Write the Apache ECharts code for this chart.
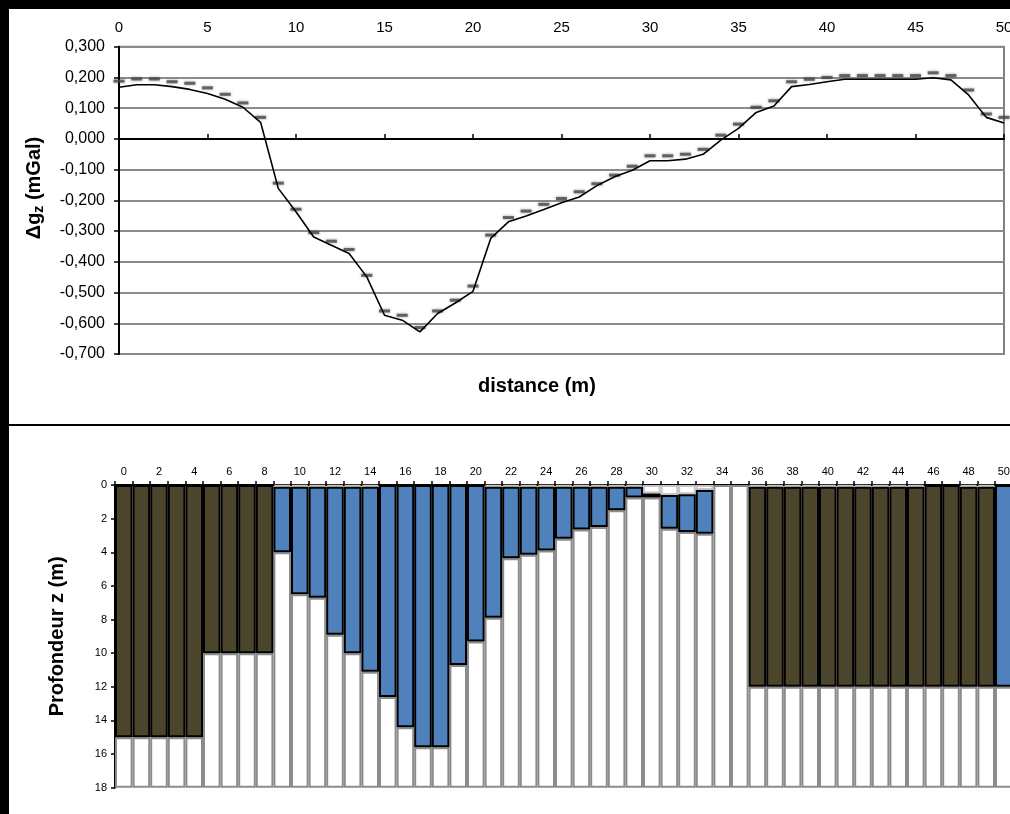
<!DOCTYPE html>
<html>
<head>
<meta charset="utf-8">
<script src="https://cdn.jsdelivr.net/npm/echarts@6/dist/echarts.min.js"></script>
<style>
  html, body { margin: 0; padding: 0; background: #fff; }
  #chart { width: 1010px; height: 814px; }
</style>
</head>
<body>
<div id="chart"></div>
<script>
// ---- top chart: gravity anomaly along the profile ----
const distance = [];
for (let i = 0; i <= 50; i++) distance.push(i);

// measured values (dashes)
const measured = [
  0.188, 0.195, 0.195, 0.186, 0.181, 0.166, 0.145, 0.117, 0.070, -0.144,
  -0.229, -0.305, -0.333, -0.360, -0.444, -0.560, -0.574, -0.614, -0.560, -0.525,
  -0.479, -0.313, -0.256, -0.235, -0.213, -0.194, -0.172, -0.146, -0.118, -0.089,
  -0.055, -0.055, -0.050, -0.034, 0.012, 0.048, 0.103, 0.124, 0.186, 0.194,
  0.200, 0.206, 0.206, 0.206, 0.206, 0.206, 0.215, 0.206, 0.159, 0.081,
  0.070
];

// computed model (black line)
const model = [
  0.168, 0.176, 0.176, 0.170, 0.161, 0.148, 0.129, 0.103, 0.054, -0.161,
  -0.237, -0.319, -0.346, -0.373, -0.449, -0.574, -0.590, -0.628, -0.568, -0.534,
  -0.496, -0.324, -0.270, -0.251, -0.230, -0.208, -0.189, -0.152, -0.123, -0.102,
  -0.071, -0.071, -0.066, -0.050, -0.004, 0.034, 0.086, 0.107, 0.170, 0.177,
  0.186, 0.194, 0.194, 0.194, 0.194, 0.194, 0.199, 0.192, 0.143, 0.070,
  0.052
];

// ---- bottom chart: depth model ----
const columns = distance.map(String);
// depth of top of each block (m)
const blockTop = [
  0, 0, 0, 0, 0, 0, 0, 0, 0, 0.1,
  0.1, 0.1, 0.1, 0.1, 0.1, 0, 0, 0, 0, 0,
  0, 0.1, 0.1, 0.1, 0.1, 0.1, 0.1, 0.1, 0.1, 0.1,
  0.5, 0.6, 0.55, 0.3, 0, 0, 0.1, 0.1, 0.1, 0.1,
  0.1, 0.1, 0.1, 0.1, 0.1, 0.1, 0, 0, 0.1, 0.1,
  0
];
// depth of bottom of each block (m), null = no block
const blockBottom = [
  15, 15, 15, 15, 15, 10, 10, 10, 10, 4,
  6.5, 6.7, 8.9, 10, 11.1, 12.6, 14.4, 15.6, 15.6, 10.7,
  9.3, 7.9, 4.35, 4.15, 3.9, 3.2, 2.65, 2.5, 1.5, 0.75,
  0.75, 2.6, 2.8, 2.9, null, null, 12, 12, 12, 12,
  12, 12, 12, 12, 12, 12, 12, 12, 12, 12,
  12
];
// block type: R = dark block, B = blue block
const blockKind = [
  'R', 'R', 'R', 'R', 'R', 'R', 'R', 'R', 'R', 'B',
  'B', 'B', 'B', 'B', 'B', 'B', 'B', 'B', 'B', 'B',
  'B', 'B', 'B', 'B', 'B', 'B', 'B', 'B', 'B', 'B',
  'B', 'B', 'B', 'B', '', '', 'R', 'R', 'R', 'R',
  'R', 'R', 'R', 'R', 'R', 'R', 'R', 'R', 'R', 'R',
  'B'
];
const maxDepth = 18;

const topPart = blockTop.map(v => (v > 0 ? v : null));
const blockPart = blockBottom.map((b, i) => (b == null ? null : +(b - blockTop[i]).toFixed(3)));
const restPart = blockBottom.map((b, i) => +(maxDepth - (b == null ? blockTop[i] : b)).toFixed(3));

const font = '"Liberation Sans", Arial, sans-serif';

const chart = echarts.init(document.getElementById('chart'));

const option = {
  backgroundColor: '#fff',
  animation: false,
  textStyle: { fontFamily: font, color: '#000' },
  graphic: [
    { type: 'rect', shape: { x: 0, y: 0, width: 1010, height: 9 }, style: { fill: '#000' } },
    { type: 'rect', shape: { x: 0, y: 0, width: 9, height: 814 }, style: { fill: '#000' } },
    { type: 'rect', shape: { x: 0, y: 424, width: 1010, height: 2 }, style: { fill: '#000' } },
    {
      type: 'text', left: 478, top: 376,
      style: { text: 'distance (m)', font: 'bold 20px ' + font, fill: '#000' }
    },
    {
      // y-axis title of the top chart, with subscript z
      type: 'text', x: 34, y: 188, rotation: Math.PI / 2,
      style: {
        text: '{a|Δg}{s|z}{a| (mGal)}',
        align: 'center', verticalAlign: 'middle',
        rich: {
          a: { fontSize: 20, fontWeight: 'bold', fontFamily: font, fill: '#000' },
          s: { fontSize: 14, fontWeight: 'bold', fontFamily: font, fill: '#000', padding: [10, 0, 0, 0] }
        }
      }
    }
  ],
  grid: [
    { left: 119, top: 46.7, width: 885, height: 307.3, show: true, borderColor: '#808080', borderWidth: 2, outerBoundsMode: 'none' },
    { left: 115, top: 485, width: 51 * 17.6, height: 302.7, outerBoundsMode: 'none' }
  ],
  xAxis: [
    {
      gridIndex: 0, type: 'value', position: 'top', min: 0, max: 50, interval: 5,
      axisLine: { show: false, onZero: false },
      axisTick: { show: false },
      splitLine: { show: false },
      axisLabel: { fontSize: 15, margin: 11, color: '#000' }
    },
    {
      gridIndex: 0, type: 'value', position: 'bottom', min: 0, max: 50, interval: 5,
      axisLine: { show: true, onZero: true, lineStyle: { color: '#000', width: 2 } },
      axisTick: { show: true, inside: true, length: 5, lineStyle: { color: '#000', width: 1.5 } },
      splitLine: { show: false },
      axisLabel: { show: false }
    },
    {
      gridIndex: 1, type: 'category', position: 'top', data: columns,
      boundaryGap: true,
      axisLine: { lineStyle: { color: '#000', width: 2 } },
      axisTick: { show: true, interval: 0, length: 4, lineStyle: { color: '#000', width: 1.5 } },
      axisLabel: { interval: 1, fontSize: 11, margin: 8, color: '#000' }
    }
  ],
  yAxis: [
    {
      gridIndex: 0, type: 'value', min: -0.7, max: 0.3, interval: 0.1,
      axisLine: { show: true, lineStyle: { color: '#000', width: 2 } },
      axisTick: { show: true, length: 5, lineStyle: { color: '#000', width: 1.5 } },
      splitLine: { show: true, lineStyle: { color: '#8c8c8c', width: 2 } },
      axisLabel: {
        fontSize: 16, margin: 14, color: '#000',
        formatter: v => (Math.abs(v) < 1e-9 ? 0 : v).toFixed(3).replace('.', ',')
      }
    },
    {
      gridIndex: 1, type: 'value', inverse: true, min: 0, max: maxDepth, interval: 2,
      name: 'Profondeur z (m)',
      nameLocation: 'middle', nameGap: 48,
      nameTextStyle: { fontSize: 20, fontWeight: 'bold', color: '#000' },
      axisLine: { show: true, lineStyle: { color: '#000', width: 2 } },
      axisTick: { show: true, length: 4, lineStyle: { color: '#000', width: 1.5 } },
      splitLine: { show: false },
      axisLabel: { fontSize: 11, margin: 8, color: '#000' }
    }
  ],
  series: [
    {
      name: 'mesure', type: 'scatter', xAxisIndex: 0, yAxisIndex: 0,
      data: distance.map((d, i) => [d, measured[i]]),
      symbol: 'rect', symbolSize: [11, 3],
      itemStyle: { color: '#4a4a4a', shadowBlur: 3, shadowColor: 'rgba(0,0,0,0.5)' },
      z: 3
    },
    {
      name: 'modèle', type: 'line', xAxisIndex: 0, yAxisIndex: 0,
      data: distance.map((d, i) => [d, model[i]]),
      showSymbol: false, symbol: 'none',
      lineStyle: { color: '#000', width: 1.6 },
      z: 4
    },
    {
      name: 'surface', type: 'bar', xAxisIndex: 2, yAxisIndex: 1, stack: 'col',
      data: topPart, barWidth: '100%',
      itemStyle: { color: '#fff', borderColor: '#c4c4c4', borderWidth: 2 },
      z: 2
    },
    {
      name: 'bloc', type: 'bar', xAxisIndex: 2, yAxisIndex: 1, stack: 'col',
      data: blockPart, barWidth: '100%',
      itemStyle: {
        color: p => (blockKind[p.dataIndex] === 'R' ? '#4a452b' : '#4f81bd'),
        borderColor: '#000', borderWidth: 2
      },
      z: 4
    },
    {
      name: 'reste', type: 'bar', xAxisIndex: 2, yAxisIndex: 1, stack: 'col',
      data: restPart, barWidth: '100%',
      itemStyle: { color: '#fff', borderColor: '#8c8c8c', borderWidth: 2 },
      z: 3
    }
  ]
};

chart.setOption(option);
</script>
</body>
</html>
